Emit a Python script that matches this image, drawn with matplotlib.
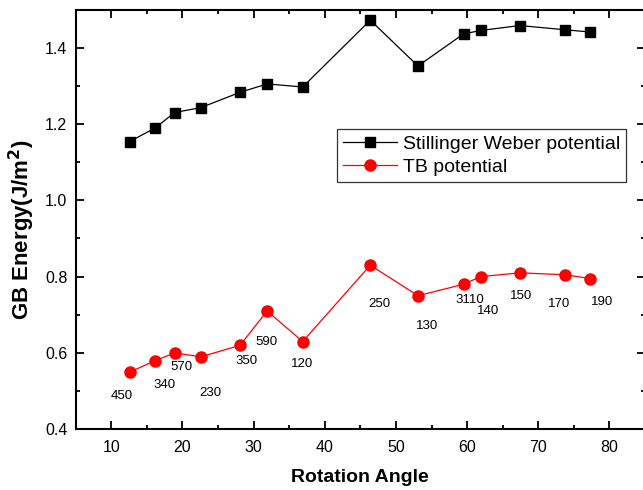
import numpy as np
from matplotlib import pyplot as plt
from matplotlib.ticker import MultipleLocator

plt.rcParams['font.family'] = ['Liberation Sans', 'DejaVu Sans']

# rotation angle (deg) and GB energy (J/m^2)
angle = [12.6, 16.2, 18.9, 22.6, 28.1, 31.9, 36.9, 46.4, 53.1, 59.5, 61.9, 67.4, 73.7, 77.3]
sw_energy = [1.154, 1.190, 1.230, 1.243, 1.283, 1.305, 1.297, 1.472, 1.352, 1.436, 1.445, 1.458, 1.447, 1.441]
tb_energy = [0.55, 0.58, 0.60, 0.59, 0.62, 0.71, 0.63, 0.83, 0.75, 0.78, 0.80, 0.81, 0.805, 0.795]
gb_labels = ['450', '340', '570', '230', '350', '590', '120', '250', '130', '3110', '140', '150', '170', '190']

# label offsets from each TB point, pixels
lab_off = [(-8, -24), (9, -24), (7, -14), (9, -36), (6, -16), (-1, -31), (-1, -22),
	(9, -39), (9, -30), (6, -16), (7, -34), (1, -23), (-5, -29), (12, -23)]

fig = plt.figure(figsize=(6.43, 4.9), dpi=100)
ax = fig.add_axes([0.1177, 0.1239, 0.8854, 0.8567])

p1, = ax.plot(angle, sw_energy, color='black', lw=0.9, marker='s', ms=7.5, mec='black', mfc='black')
p2, = ax.plot(angle, tb_energy, color='red', lw=0.9, marker='o', ms=8, mec='red', mfc='red')

for x, y, s, off in zip(angle, tb_energy, gb_labels, lab_off):
	ax.annotate(s, (x, y), xytext=off, textcoords='offset pixels', ha='center', va='center', fontsize=9.5)

ax.set_xlim(5, 85)
ax.set_ylim(0.4, 1.5)
ax.xaxis.set_major_locator(MultipleLocator(10))
ax.xaxis.set_minor_locator(MultipleLocator(5))
ax.yaxis.set_major_locator(MultipleLocator(0.2))
ax.yaxis.set_minor_locator(MultipleLocator(0.1))
ax.tick_params(which='both', direction='in', top=True, right=True, width=1.3, labelsize=11.5)
ax.tick_params(which='major', length=6)
ax.tick_params(which='minor', length=3)
ax.tick_params(axis='x', pad=8)
ax.tick_params(axis='y', pad=6)
for sp in ax.spines.values():
	sp.set_linewidth(1.5)

ax.set_xlabel('Rotation Angle', fontsize=14, fontweight='bold')
ax.set_ylabel('GB Energy(J/m$^\\mathbf{2}$)', fontsize=16, fontweight='bold')
ax.xaxis.set_label_coords(0.5, -0.094)
ax.yaxis.set_label_coords(-0.068, 0.475)

leg = ax.legend((p1, p2), ('Stillinger Weber potential', 'TB potential'), loc='upper left',
	bbox_to_anchor=(0.459, 0.715), borderaxespad=0, fontsize=14, frameon=True, fancybox=False,
	handlelength=2.8, labelspacing=0.3, borderpad=0.3, handletextpad=0.3)
leg.get_frame().set_edgecolor('black')
leg.get_frame().set_linewidth(0.9)

fig.savefig('out.png', dpi=100)
